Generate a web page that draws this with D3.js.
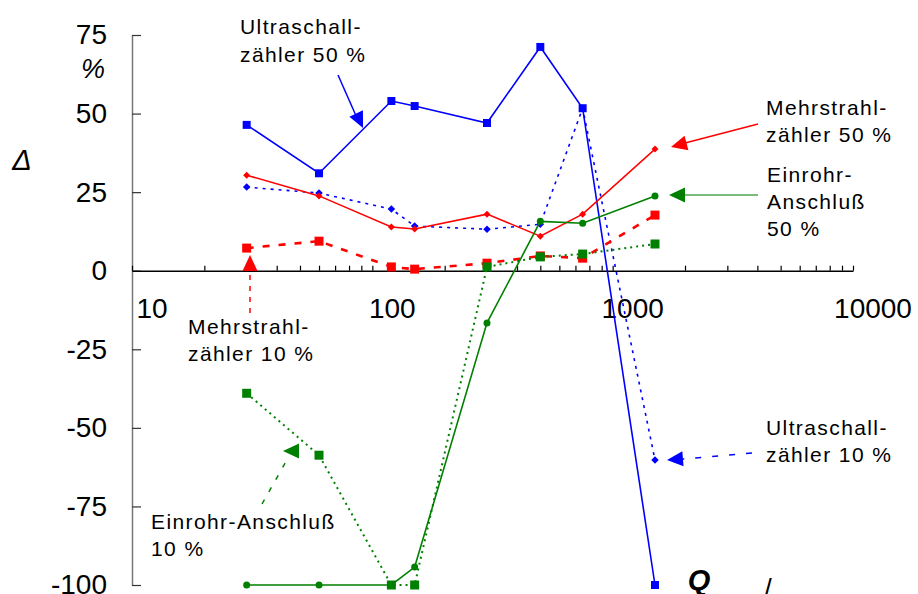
<!DOCTYPE html>
<html>
<head>
<meta charset="utf-8">
<script src="https://cdn.jsdelivr.net/npm/d3@7"></script>
<style>
  body { margin: 0; background: #fff; }
  svg { font-family: 'Liberation Sans', Arial, sans-serif; }
</style>
</head>
<body>
<script>
// DATA
const flows = [30, 60, 120, 150, 300, 500, 750, 1500];
const ultraschall50 = [46.4, 31.0, 54.0, 52.4, 47.0, 71.2, 51.7, -100];
const ultraschall10 = [26.6, 24.7, 19.6, 14.2, 13.2, 14.8, 51.7, -60.2];
const mehrstrahl50 = [30.4, 23.8, 13.9, 13.3, 18.0, 11.0, 18.0, 38.7];
const mehrstrahl10 = [7.2, 9.4, 1.2, 0.5, 2.4, 4.7, 4.0, 17.7];
const einrohr50 = [-100, -100, -100, -94.3, -16.6, 15.7, 15.1, 23.8];
const einrohr10 = [-39.0, -58.7, -100, -100, 1.2, 4.4, 5.3, 8.5];
const yTicks = [75, 50, 25, 0, -25, -50, -75, -100];
const xLabels = [10, 100, 1000, 10000];

const width = 918;
const height = 594;

const svg = d3
  .select('body')
  .append('svg')
  .attr('width', width)
  .attr('height', height);

const xScale = d3.scaleLog().domain([10, 10000]).range([132, 853]);
const yScale = d3.scaleLinear().domain([-100, 75]).range([585, 35]);

// Y-AXIS
const yAxis = svg
  .append('g')
  .attr('transform', `translate(${xScale(10)}, 0)`)
  .call(
    d3.axisLeft(yScale)
      .tickValues(yTicks)
      .tickSizeInner(-9)
      .tickSizeOuter(0)
      .tickPadding(25)
      .tickFormat(d => String(d))
  );
yAxis.select('.domain').attr('stroke', '#777').attr('stroke-width', 1.5);
yAxis.selectAll('.tick line').attr('stroke', '#333').attr('stroke-width', 1.2);
yAxis.selectAll('.tick text')
  .style('font-size', '28px')
  .style('font-family', 'Liberation Sans, Arial, sans-serif')
  .attr('fill', '#000');

// X-AXIS (log ticks pointing up, labels shifted right)
const xAxis = svg
  .append('g')
  .attr('transform', `translate(0, ${yScale(0)})`)
  .call(
    d3.axisTop(xScale)
      .tickValues(xScale.ticks())
      .tickSizeInner(5)
      .tickSizeOuter(0)
      .tickFormat('')
  );
xAxis.select('.domain').attr('stroke', '#000').attr('stroke-width', 1.5);
xAxis.selectAll('.tick line').attr('stroke', '#000').attr('stroke-width', 1.2);

svg
  .append('g')
  .selectAll('text')
  .data(xLabels)
  .enter()
  .append('text')
  .attr('x', d => xScale(d) + 20)
  .attr('y', 318)
  .attr('text-anchor', 'middle')
  .style('font-size', '28px')
  .text(d => d);

// AXIS TITLES
svg.append('text').attr('x', 93).attr('y', 78).attr('text-anchor', 'middle')
  .style('font-size', '27px').style('font-style', 'italic').text('%');
svg.append('text').attr('x', 22).attr('y', 170).attr('text-anchor', 'middle')
  .style('font-size', '29px').style('font-style', 'italic').text('Δ');
svg.append('text').attr('x', 699).attr('y', 590).attr('text-anchor', 'middle')
  .style('font-size', '29px').style('font-style', 'italic').style('font-weight', 'bold').text('Q');
svg.append('text').attr('x', 768).attr('y', 598).attr('text-anchor', 'middle')
  .style('font-size', '27px').text('/');

// SERIES
const series = [
  { values: ultraschall10, color: '#0000ff', width: 1.6, dash: '3,5', marker: 'diamond', size: 7.5 },
  { values: ultraschall50, color: '#0000ff', width: 1.6, dash: null, marker: 'square', size: 8 },
  { values: mehrstrahl10, color: '#ff0000', width: 2.6, dash: '7,9', marker: 'square', size: 9 },
  { values: mehrstrahl50, color: '#ff0000', width: 1.5, dash: null, marker: 'diamond', size: 7 },
  { values: einrohr10, color: '#008000', width: 2, dash: '2,4', marker: 'square', size: 9 },
  { values: einrohr50, color: '#008000', width: 1.6, dash: null, marker: 'circle', size: 7 }
];

const line = d3
  .line()
  .x(d => xScale(d[0]))
  .y(d => yScale(d[1]));

series.forEach(s => {
  const pts = flows.map((q, i) => [q, s.values[i]]);
  const g = svg.append('g');

  g.append('path')
    .datum(pts)
    .attr('d', line)
    .attr('fill', 'none')
    .attr('stroke', s.color)
    .attr('stroke-width', s.width)
    .attr('stroke-dasharray', s.dash);

  // diamonds are squares turned by 45 degrees, size = diagonal
  const sym = s.marker === 'circle' ? d3.symbolCircle : d3.symbolSquare;
  const area = s.marker === 'diamond' ? s.size * s.size / 2 :
    s.marker === 'circle' ? Math.PI * (s.size / 2) * (s.size / 2) : s.size * s.size;
  const rot = s.marker === 'diamond' ? ' rotate(45)' : '';

  g.selectAll('path.pt')
    .data(pts)
    .enter()
    .append('path')
    .attr('class', 'pt')
    .attr('d', d3.symbol().type(sym).size(area))
    .attr('transform', d => `translate(${xScale(d[0])}, ${yScale(d[1])})${rot}`)
    .attr('fill', s.color);
});

// ANNOTATIONS
const notes = [
  { lines: ['Ultraschall-', 'zähler 50 %'], x: 240, y: 34, dy: 28 },
  { lines: ['Mehrstrahl-', 'zähler 50 %'], x: 766, y: 115, dy: 27 },
  { lines: ['Einrohr-', 'Anschluß', '50 %'], x: 767, y: 182, dy: 27 },
  { lines: ['Ultraschall-', 'zähler 10 %'], x: 766, y: 435, dy: 27 },
  { lines: ['Mehrstrahl-', 'zähler 10 %'], x: 188, y: 334, dy: 27 },
  { lines: ['Einrohr-Anschluß', '10 %'], x: 151, y: 529, dy: 27 }
];

notes.forEach(n => {
  const t = svg
    .append('text')
    .attr('x', n.x)
    .attr('y', n.y)
    .style('font-size', '21px')
    .style('letter-spacing', '1.4px');
  n.lines.forEach((l, i) => {
    t.append('tspan').attr('x', n.x).attr('dy', i === 0 ? 0 : n.dy).text(l);
  });
});

const arrows = [
  { from: [338, 75], to: [357, 118], tip: [363, 128], color: '#0000ff', dash: null },
  { from: [758, 124], to: [685, 143], tip: [671, 147], color: '#ff0000', dash: null },
  { from: [758, 195], to: [684, 195], tip: [669, 195], color: '#4da64d', dash: null, head: '#008000' },
  { from: [752, 453], to: [683, 459], tip: [667, 460], color: '#0000ff', dash: '6,11' },
  { from: [250, 313], to: [250, 268], tip: [250, 255], color: '#ff0000', dash: '5,6' },
  { from: [262, 504], to: [288, 458], tip: [283, 451], angle: Math.PI, color: '#008000', dash: '5,9' }
];

arrows.forEach(a => {
  svg
    .append('line')
    .attr('x1', a.from[0])
    .attr('y1', a.from[1])
    .attr('x2', a.to[0])
    .attr('y2', a.to[1])
    .attr('stroke', a.color)
    .attr('stroke-width', 1.5)
    .attr('stroke-dasharray', a.dash);

  const ang = a.angle !== undefined
    ? a.angle
    : Math.atan2(a.tip[1] - a.from[1], a.tip[0] - a.from[0]);
  const len = 16;
  const half = 7.5;
  const bx = a.tip[0] - len * Math.cos(ang);
  const by = a.tip[1] - len * Math.sin(ang);
  const px = -Math.sin(ang) * half;
  const py = Math.cos(ang) * half;
  svg
    .append('polygon')
    .attr('points', [
      [a.tip[0], a.tip[1]],
      [bx + px, by + py],
      [bx - px, by - py]
    ].map(p => p.join(',')).join(' '))
    .attr('fill', a.head || a.color);
});
</script>
</body>
</html>
